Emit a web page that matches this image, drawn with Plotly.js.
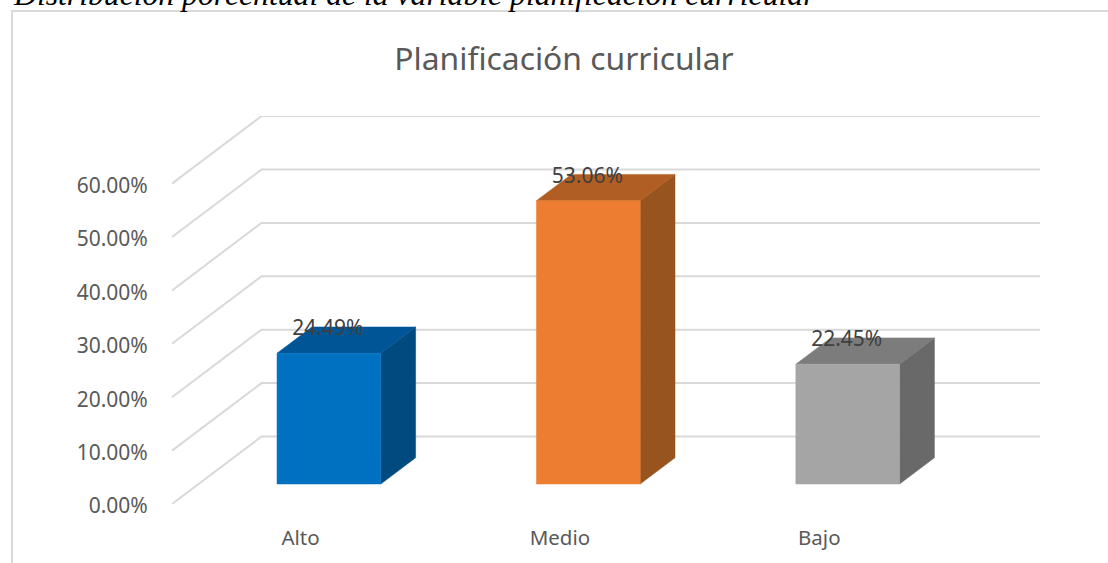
<!DOCTYPE html>
<html>
<head>
<meta charset="utf-8">
<script src="https://cdn.plot.ly/plotly-3.0.1.min.js"></script>
<style>html,body{margin:0;padding:0;background:#fff;overflow:hidden}</style>
</head>
<body>
<div id="chart" style="width:1108px;height:563px"></div>
<script>
// Data
const categories = ['Alto', 'Medio', 'Bajo'];
const values = [24.49, 53.06, 22.45];
const valueLabels = ['24.49%', '53.06%', '22.45%'];
const axisTicks = [0, 10, 20, 30, 40, 50, 60];
const axisTickLabels = ['0.00%', '10.00%', '20.00%', '30.00%', '40.00%', '50.00%', '60.00%'];
const captionText = 'Distribución porcentual de la variable planificación curricular';
const titleText = 'Planificación curricular';

// Bar colours: front, top, side
const frontColors = ['#0070C0', '#ED7D31', '#A5A5A5'];
const topColors = ['#005596', '#B15E24', '#7C7C7C'];
const sideColors = ['#004A80', '#97541F', '#696969'];

// Projection of the oblique view
const W = 1108, H = 563;
const plot = {l: 172, r: 1040, t: 116, b: 504};
const pxPerCat = 259.4, pxPerVal = 5.34;
const catAtLeft = (172 - 300.5) / pxPerCat;
const xRange = [catAtLeft, catAtLeft + (plot.r - plot.l) / pxPerCat];
const yRange = [0, (plot.b - plot.t) / pxPerVal];
const wallDx = 89.5 / pxPerCat, wallDy = 67.5 / pxPerVal;
const depthFront = 0.296, depthBack = 0.685, depthLabel = 0.637;
const barOffset = 0.0074, barHalf = 0.2;

const px = (c, d) => c + d * wallDx;
const py = (v, d) => v + d * wallDy;

const traces = [];
// Floor / wall grid lines
axisTicks.forEach(t => {
  traces.push({
    type: 'scatter', mode: 'lines', cliponaxis: false, hoverinfo: 'skip', showlegend: false,
    x: [xRange[0], px(xRange[0], 1), xRange[1]],
    y: [py(t, 0), py(t, 1), py(t, 1)],
    line: {color: '#D9D9D9', width: 2}
  });
});
// 3D bars
function poly(xs, ys, color) {
  traces.push({
    type: 'scatter', mode: 'lines', fill: 'toself', fillcolor: color, cliponaxis: false,
    hoverinfo: 'skip', showlegend: false,
    x: xs.concat(xs[0]), y: ys.concat(ys[0]), line: {color: color, width: 0.5}
  });
}
values.forEach((v, i) => {
  const L = i + barOffset - barHalf, R = i + barOffset + barHalf;
  poly([px(R, depthFront), px(R, depthBack), px(R, depthBack), px(R, depthFront)],
       [py(0, depthFront), py(0, depthBack), py(v, depthBack), py(v, depthFront)], sideColors[i]);
  poly([px(L, depthFront), px(R, depthFront), px(R, depthBack), px(L, depthBack)],
       [py(v, depthFront), py(v, depthFront), py(v, depthBack), py(v, depthBack)], topColors[i]);
  poly([px(L, depthFront), px(R, depthFront), px(R, depthFront), px(L, depthFront)],
       [py(0, depthFront), py(0, depthFront), py(v, depthFront), py(v, depthFront)], frontColors[i]);
});
// Data labels
traces.push({
  type: 'scatter', mode: 'text', cliponaxis: false, hoverinfo: 'skip', showlegend: false,
  x: values.map((v, i) => px(i + barOffset, depthFront) - 1 / pxPerCat),
  y: values.map(v => py(v, depthLabel)),
  text: valueLabels, textposition: 'middle center',
  textfont: {family: 'Noto Sans, sans-serif', size: 21, color: '#404040'}
});

const fx = p => (p - plot.l) / (plot.r - plot.l);
const fy = p => (plot.b - p) / (plot.b - plot.t);

const layout = {
  width: W, height: H,
  margin: {l: plot.l, r: W - plot.r, t: plot.t, b: H - plot.b, pad: 0},
  paper_bgcolor: '#fff', plot_bgcolor: 'rgba(0,0,0,0)',
  showlegend: false,
  title: {
    text: titleText, x: 564 / W, xanchor: 'center', y: 1 - 59 / H, yanchor: 'middle',
    font: {family: 'Noto Sans, sans-serif', size: 31.8, color: '#595959'}
  },
  xaxis: {
    range: xRange, tickmode: 'array', tickvals: categories.map((c, i) => i), ticktext: categories,
    showgrid: false, zeroline: false, showline: false,
    ticks: 'outside', ticklen: 15, tickcolor: 'rgba(0,0,0,0)',
    tickfont: {family: 'Noto Sans, sans-serif', size: 20.5, color: '#595959'}
  },
  yaxis: {
    range: yRange, tickmode: 'array', tickvals: axisTicks, ticktext: axisTickLabels,
    showgrid: false, zeroline: false, showline: false,
    ticks: 'outside', ticklen: 19, tickcolor: 'rgba(0,0,0,0)', ticklabelshift: 2,
    tickfont: {family: 'Noto Sans, sans-serif', size: 21, color: '#595959'}
  },
  shapes: [{
    type: 'path', xref: 'paper', yref: 'paper', layer: 'below',
    path: `M ${fx(12)} ${fy(H + 5)} L ${fx(12)} ${fy(11)} L ${fx(W + 5)} ${fy(11)}`,
    line: {color: '#D9D9D9', width: 2}
  }],
  annotations: [{
    text: '<i>' + captionText + '</i>', xref: 'paper', yref: 'paper', x: fx(12), y: fy(13),
    xanchor: 'left', yanchor: 'bottom', showarrow: false, align: 'left',
    font: {family: 'Liberation Serif, serif', size: 31.7, color: '#000'},
    borderpad: 0
  }]
};

Plotly.newPlot('chart', traces, layout, {staticPlot: true, displayModeBar: false});
</script>
</body>
</html>
